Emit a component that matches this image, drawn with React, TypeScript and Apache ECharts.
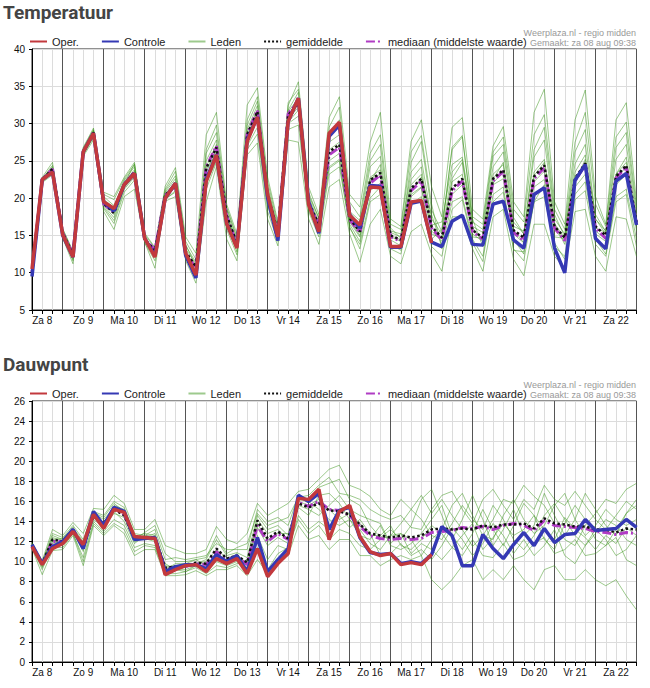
import * as echarts from "echarts";
import { useEffect, useRef } from "react";

// tick labels (day names); the 60 points are 6-hourly from za 8 06:00 to zo 23 00:00
const days = ["Za 8", "Zo 9", "Ma 10", "Di 11", "Wo 12", "Do 13", "Vr 14", "Za 15", "Zo 16", "Ma 17", "Di 18", "Wo 19", "Do 20", "Vr 21", "Za 22", "Zo 23"];
const hours = ["06:00", "12:00", "18:00", "00:00"];

const legendNames = ["Oper.", "Controle", "Leden", "gemiddelde", "mediaan (middelste waarde)"];

// Temperatuur
const tempOper = [
	10.5, 22.5, 23.5, 15.1, 12.1, 26.2, 28.7, 19.5, 18.6, 21.8,
	23.3, 14.6, 12.1, 20, 22, 12.6, 9.7, 22.2, 25.8, 16.6,
	13.3, 27.6, 30.9, 20.5, 14.8, 30.3, 33.4, 19.1, 15.5, 28.7,
	30.2, 17.7, 16.4, 21.5, 21.4, 13.5, 13.5, 19.5, 19.7, 14,
];
const tempControle = [
	9.5, 22.5, 23.5, 15, 12.1, 26.2, 28.7, 19.5, 18.3, 21.8,
	23.3, 14.6, 12.3, 20, 22, 12.3, 9.3, 22.5, 25.8, 16.6,
	13.5, 27.8, 30.9, 20, 14.3, 30.3, 33.4, 19.5, 15.3, 28.3,
	29.8, 17.8, 16, 21.7, 21.6, 13.4, 13.4, 19.3, 19.6, 14.1,
	13.5, 16.9, 17.7, 13.8, 13.7, 19.2, 19.6, 14.4, 13.3, 20.5,
	21.4, 13.3, 10, 22.4, 24.5, 14.6, 13.2, 22.3, 23.3, 16.4,
];
const tempMean = [
	10.1, 22.5, 23.9, 15.3, 12.4, 26.2, 28.8, 19.3, 18, 21.8,
	23.5, 14.4, 13, 20.4, 21.8, 12.8, 10.8, 24, 26.8, 17.7,
	13.9, 28.5, 31.6, 20.4, 15.5, 31.1, 32.7, 19.5, 16.4, 26.2,
	27.2, 17.3, 15.5, 22.4, 23.4, 15, 14.4, 21.3, 22.6, 16.2,
	14.7, 21.3, 22.6, 15.7, 14.7, 22.6, 23.8, 15.7, 14.7, 22.9,
	24.4, 16.2, 14.7, 22.6, 24.7, 16.2, 15, 22.9, 24.4, 16.8,
];
const tempMedian = [
	10.1, 22.5, 23.9, 15.3, 12.5, 26.2, 28.8, 19.2, 18.1, 21.9,
	23.5, 14.4, 13.1, 20.4, 21.7, 12.6, 10.6, 24.2, 27, 17.6,
	13.8, 28.6, 31.8, 20.2, 15.4, 31.3, 33, 19.4, 16.3, 25.8,
	26.8, 17.1, 15.4, 22, 23.1, 14.8, 14.2, 21, 22.3, 16,
	14.4, 21, 22.3, 15.5, 14.5, 22.3, 23.6, 15.4, 14.3, 22.6,
	24.1, 16, 14.3, 22.3, 24.5, 16, 14.6, 22.7, 24.2, 16.6,
];
const tempLeden = [
	[10.3, 22.8, 24.8, 15.8, 12.8, 26.8, 29.4, 20.8, 20.2, 22.8, 24.8, 15.3, 13.4, 21.6, 24.1, 14.8, 12.6, 28.5, 31.5, 19.2,
	 15.2, 32.5, 34.8, 22.8, 16.8, 32.4, 35.6, 21.5, 17.8, 30.8, 33.6, 20.5, 18.8, 27.5, 31.5, 17.2, 16.2, 27.6, 30.5, 21.5,
	 17.5, 29.5, 30.8, 18.5, 17.2, 27, 29.6, 19.5, 17.5, 31.5, 34.6, 19.5, 16.5, 30.5, 34.5, 20.2, 16.5, 30.5, 32.8, 19.5],
	[9.6, 22.1, 23.1, 14.6, 11.2, 25.6, 27.8, 18.2, 15.8, 20.2, 21.2, 14.1, 10.6, 19.6, 20.2, 11.6, 8.6, 19.5, 24.2, 14.5,
	 11.6, 25.8, 27.4, 17.2, 13.6, 27.8, 27.5, 17.2, 13.8, 21.5, 22.5, 15.2, 11.4, 16.5, 18.5, 12.2, 11.2, 15.5, 16.5, 12.5,
	 10.2, 17.5, 17.5, 13.2, 10.2, 17.5, 18.5, 11.8, 9.6, 16.5, 16.5, 12.2, 10.6, 18.2, 18.5, 12.2, 10.2, 17.5, 17.2, 12.2],
	[10.1, 22.6, 24.2, 15.5, 12.6, 26.4, 29, 19.6, 18.6, 22.2, 23.8, 14.6, 13.1, 20.8, 22.6, 13.2, 11.2, 25, 27.8, 18.2,
	 14.2, 29.2, 32.4, 21.2, 15.8, 31.6, 33.4, 20.2, 16.8, 27.5, 28.5, 17.8, 16.2, 24.2, 25.6, 15.6, 15.2, 23.5, 25.2, 17.2,
	 15.2, 23.5, 25.2, 16.2, 15.4, 24.2, 26.2, 16.8, 15.2, 25.5, 27.8, 17.2, 15.2, 24.6, 27.2, 17.2, 15.6, 25.2, 27.2, 17.5],
	[10, 22.4, 23.6, 15.1, 12.2, 26, 28.4, 19, 17.4, 21.4, 23, 14.2, 12.6, 20.2, 21.4, 12.4, 10.2, 22.8, 25.8, 17,
	 13.4, 27.6, 30.8, 19.6, 15.2, 30.6, 32.2, 19, 16, 25, 26, 16.8, 14.8, 21, 22, 14.4, 13.6, 20.2, 21.4, 15.6,
	 14.2, 20.5, 21.8, 15.2, 14.2, 21.8, 22.6, 15.2, 14, 21.5, 22.5, 15.8, 14.2, 21.5, 23.2, 15.6, 14.5, 21.8, 23.2, 16.2],
	[10.2, 22.6, 24.4, 15.9, 12.9, 26.7, 29.2, 20.5, 19.8, 22.6, 24.5, 15.1, 13.3, 21.2, 23.6, 14.2, 11.8, 26.5, 29.8, 18.8,
	 14.8, 30.5, 33.6, 22.2, 16.4, 32.8, 34.6, 20.8, 17.2, 29.5, 32.2, 19.5, 17.5, 26, 28.5, 16.5, 15.8, 26.2, 28.4, 19.2,
	 13.2, 19.5, 20.2, 14.5, 12.2, 19.5, 20.8, 13.2, 11.6, 19.5, 20.2, 13.5, 12.2, 20.5, 22.2, 14.5, 12.5, 20.2, 21.2, 14.5],
	[9.9, 22.3, 23.4, 14.9, 11.6, 25.8, 28.1, 18.6, 16.6, 20.8, 22.4, 14, 11.6, 19.9, 20.8, 12, 9.6, 21.2, 24.8, 15.8,
	 12.4, 26.5, 28.6, 18.2, 14.2, 29.2, 29.8, 18.2, 14.8, 23.2, 24.2, 16.2, 13.2, 19.5, 20.5, 13.2, 12.5, 19.2, 20.2, 14.5,
	 15.8, 26.5, 28.2, 17.5, 16.5, 26.2, 28.2, 18.5, 16.8, 28.5, 31.2, 18.5, 15.8, 27.5, 31.5, 19.2, 16.2, 28.2, 30.2, 18.8],
	[10.4, 22.7, 23.8, 15.4, 12.4, 26.2, 28.6, 19.2, 18.2, 21.6, 23.4, 14.8, 12.8, 20.6, 22.2, 12.8, 10.6, 24.2, 27.2, 17.8,
	 13.8, 28.2, 31.2, 20.2, 15.4, 31.2, 32.6, 19.2, 16.6, 26.5, 27.5, 16.8, 15.6, 22.8, 23.8, 14.8, 14.2, 21.8, 23.2, 16.4,
	 16.8, 24.5, 25.5, 17.2, 13.5, 22.5, 24.8, 14.5, 12.5, 23.5, 25.2, 16.5, 13.8, 22.2, 25.2, 17.8, 15.5, 23.2, 25.5, 17.2],
	[9.8, 22.2, 23.3, 15.2, 12.5, 26.1, 28.9, 19.8, 18.8, 22.4, 24.2, 14.5, 13.2, 20.4, 21.8, 13.6, 11.4, 23.5, 26.2, 17.4,
	 14.4, 28.8, 31.8, 20.6, 15.6, 30.2, 31.8, 18.8, 16.2, 24.2, 25.2, 16.5, 14.2, 22.2, 24.5, 15.4, 14.8, 22.5, 24.2, 15.2,
	 14.6, 22.2, 23.2, 14.8, 14.6, 23.2, 24.5, 16.2, 15.6, 22.2, 23.6, 14.8, 14.6, 23.5, 25.8, 15.2, 14.2, 22.6, 24.2, 15.6],
	[10.1, 22.5, 24, 15.6, 12.7, 26.5, 29.1, 20.2, 19, 21.9, 24.6, 15, 12.4, 21, 23, 13.8, 10.8, 26, 28.8, 18.6,
	 14.6, 29.8, 33, 21.6, 16, 31.8, 34.2, 20.4, 17.4, 28.5, 30.5, 18.2, 17, 25, 27.2, 16, 14.6, 24.8, 27.6, 18.4,
	 15.5, 26.8, 28.4, 16.8, 15.8, 25.6, 27.2, 17.4, 15.2, 26.5, 29.5, 17.8, 14.8, 26.2, 29.2, 17.2, 15.2, 26.8, 28.8, 18.2],
	[9.7, 22.2, 23.5, 14.8, 11.8, 25.9, 28.2, 18.8, 17, 21.2, 22.8, 14.3, 12.2, 19.8, 21, 12.6, 9.8, 22, 25, 16.4,
	 12.8, 27, 29.5, 19, 14.6, 30, 31, 18.4, 15.4, 24, 25, 16, 13.8, 20, 21.5, 13.8, 13, 20.5, 21.5, 13.5,
	 12.2, 18.5, 19.8, 14, 11.5, 20.5, 21.5, 13, 12.8, 19.5, 21.8, 14, 11.8, 19.8, 21, 13.8, 12.2, 19.5, 20.5, 13.5],
	[10, 22.4, 23.7, 15, 12.3, 26.3, 28.5, 19.4, 17.8, 21.6, 23.6, 14.4, 12.9, 20.2, 21.6, 12.9, 10.4, 23.8, 26.4, 17.6,
	 13.6, 28.4, 31.6, 20, 15, 31.2, 33, 19.6, 16.6, 26, 27, 17, 15, 22.6, 23.2, 15, 14.4, 21, 22.8, 17.8,
	 13.6, 22.6, 24.8, 16, 14.4, 22, 23.6, 15.8, 14, 23, 24.8, 16.6, 14.6, 23, 24, 16, 15.4, 23.2, 24.8, 16.6],
];

// Dauwpunt
const dewOper = [
	11.5, 9.7, 11.3, 11.8, 13, 11.7, 14.7, 13.3, 15.2, 14.9,
	12.5, 12.4, 12.3, 8.7, 9.2, 9.6, 9.7, 9, 10.3, 9.8,
	10.3, 8.8, 11.3, 8.5, 9.8, 10.8, 16.3, 16.2, 17.2, 12.2,
	15, 15.6, 12.5, 11, 10.6, 10.8, 9.7, 9.9, 9.7, 10.7,
];
const dewControle = [
	11.7, 9.8, 11.5, 12, 13.2, 11.3, 15, 13.6, 15.4, 15,
	12.2, 12.3, 12.4, 9, 9.5, 9.7, 9.7, 9.3, 10.7, 10,
	10.6, 9, 12.4, 9, 10.2, 11.3, 16.6, 16, 16.8, 13.2,
	15.1, 15.4, 12.4, 10.9, 10.7, 10.8, 9.8, 10, 9.8, 10.7,
	13.5, 12.6, 9.6, 9.6, 12.7, 11.3, 10.3, 11.7, 12.9, 11.6,
	13.3, 11.9, 12.7, 12.8, 14.2, 13.1, 13.2, 13.3, 14.2, 13.4,
];
const dewMean = [
	11.6, 9.8, 12.2, 12, 13.2, 11.3, 14.6, 13.8, 15.2, 14.6,
	12.2, 12.5, 12.4, 9.4, 9.5, 9.6, 9.9, 9.8, 11.3, 10.3,
	10.6, 9.9, 14.1, 12.3, 13, 12.3, 15.8, 15.4, 15.8, 15.1,
	15, 14.7, 13.7, 12.8, 12.6, 12.4, 12.6, 12.4, 12.6, 13.2,
	13.3, 13.2, 13.3, 13.2, 13.6, 13.4, 13.7, 13.7, 13.8, 13.3,
	14.3, 13.8, 13.7, 13.5, 13.5, 13.2, 13.2, 12.9, 13.3, 13.2,
];
const dewMedian = [
	11.6, 9.8, 12, 12, 13.2, 11.4, 14.7, 13.7, 15.3, 14.7,
	12.3, 12.4, 12.4, 9.3, 9.4, 9.5, 9.8, 9.7, 11, 10.2,
	10.5, 9.7, 13.6, 12, 12.8, 12.2, 15.9, 15.5, 16, 15.2,
	15.1, 14.6, 13.5, 12.6, 12.3, 12.2, 12.3, 12.2, 12.3, 12.9,
	13, 13.1, 13.4, 13.3, 13.5, 13.2, 13.6, 13.8, 13.6, 13.1,
	14.1, 13.6, 13.5, 13.4, 13.3, 13, 12.9, 12.7, 12.9, 12.8,
];
const dewLeden = [
	[11.9, 10.1, 13.2, 12.6, 13.9, 12.8, 15.3, 15.2, 16.6, 15.8, 13.2, 13.2, 14.2, 11.6, 11.2, 10.8, 10.8, 11.2, 13.5, 12.2,
	 11.8, 12.8, 15.8, 14.6, 15.2, 15.8, 17, 17.2, 18.2, 19.2, 19.6, 17.6, 17.2, 16.5, 15.2, 14.6, 16.2, 15.2, 16.6, 14.8,
	 16.2, 14.6, 13.2, 11.5, 12.6, 14.2, 16.2, 15.8, 17.6, 16.5, 15.6, 13.8, 12.2, 11.6, 13.6, 14.8, 16.2, 15.8, 17.2, 17.8],
	[11.3, 8.7, 11.1, 11.2, 12.6, 9.6, 13.6, 12.6, 13.6, 12.8, 10.6, 11.2, 11.2, 8.6, 8.6, 8.7, 9.1, 8.6, 9.2, 9.2,
	 9.6, 8.6, 10.2, 8.8, 10.2, 10.6, 13.6, 12.2, 12.6, 11.2, 12.2, 12.2, 10.6, 10.6, 9.6, 10.2, 10.6, 10.2, 10.6, 8.2,
	 7.2, 8.2, 9.6, 10.2, 8.2, 9.2, 8.2, 9.6, 8.2, 7.2, 9.2, 9.6, 8.2, 8.2, 9.2, 8.2, 7.6, 8.2, 6.6, 5.2],
	[11.6, 9.9, 12.4, 12.1, 13.3, 11.2, 14.8, 14.2, 15.4, 14.9, 12.4, 12.8, 12.6, 9.6, 9.4, 9.4, 9.8, 10.2, 12.2, 10.6,
	 10.9, 10.4, 14.6, 13.2, 13.6, 12.6, 16.2, 16, 15.2, 14.2, 13.6, 14.2, 13.2, 11.8, 11.2, 12.6, 13.8, 15.2, 14.2, 12.6,
	 12.2, 13.8, 15.6, 14.2, 13.2, 15.6, 14.2, 12.2, 11.2, 12.6, 14.6, 15.8, 14.2, 12.6, 11.6, 12.8, 14.2, 13.6, 12.2, 11.6],
	[11.5, 9.6, 12, 11.8, 13, 11.6, 14.2, 13.4, 14.8, 14.4, 12, 12.3, 12, 9.2, 9.8, 9.8, 10.2, 9.6, 10.6, 10.1,
	 10.4, 9.4, 13.4, 11.6, 12.4, 11.8, 15.4, 14.6, 16.6, 16.8, 15.8, 14.2, 12.6, 12.2, 13.6, 11.6, 11.2, 11.8, 12.8, 14.2,
	 15.6, 12.6, 11.2, 12.8, 15.2, 13.2, 11.6, 13.6, 15.8, 14.6, 12.2, 11.2, 13.8, 15.6, 14.2, 12.2, 11.6, 13.2, 14.8, 15.6],
	[11.7, 10, 12.8, 12.4, 13.6, 12.2, 15, 14.6, 16, 15.4, 12.8, 12.6, 13.2, 10.2, 10.4, 10.2, 10.4, 10.6, 11.8, 11.2,
	 11.2, 11.2, 15.2, 14, 14.4, 13.6, 16.6, 15.8, 17.4, 17.8, 18.2, 16.2, 15.6, 13.6, 12.4, 13.2, 12.2, 13.6, 16.2, 17.2,
	 14.6, 12.2, 14.2, 16.6, 14.2, 11.6, 13.2, 15.2, 12.6, 13.6, 16.8, 14.6, 12.6, 14.2, 16.8, 15.2, 13.6, 12.6, 14.8, 16.2],
	[11.4, 9.2, 11.6, 11.6, 12.8, 10.4, 14, 13, 14.2, 13.6, 11.4, 11.8, 11.6, 9, 9.2, 9, 9.6, 9.2, 10, 9.6,
	 10, 9, 12.6, 10.2, 11.6, 11.2, 14.6, 13.2, 14, 13.2, 14.6, 13.4, 14.2, 12.8, 10.6, 10.8, 11.8, 10.6, 11.2, 10.2,
	 11.6, 13.4, 12.2, 10.6, 11.8, 13.8, 12.6, 10.8, 12.2, 10.6, 11.6, 13.2, 10.6, 9.8, 11.6, 13.2, 12.2, 10.6, 11.2, 12.6],
	[11.8, 9.8, 12.6, 12.2, 13.4, 11.4, 14.6, 13.8, 15.6, 15.2, 12.6, 12.4, 12.8, 9.4, 9.6, 9.6, 9.8, 10, 11.2, 10.4,
	 10.6, 9.8, 14.2, 12.8, 13.2, 12.2, 15.6, 15.2, 14.6, 15.6, 16.6, 15.2, 14.6, 14.2, 13.8, 11.8, 12.8, 12.2, 10.6, 12.2,
	 13.2, 15.6, 16.8, 14.6, 12.6, 12.2, 14.6, 16.2, 14.2, 12.8, 13.6, 15.6, 16.8, 14.2, 12.6, 13.6, 15.2, 14.2, 13.6, 14.2],
	[11.6, 9.4, 11.8, 12, 13.1, 11, 14.4, 13.6, 15, 14, 11.8, 12.6, 12.2, 9.8, 9.2, 9.2, 9.6, 9.4, 11, 10,
	 10.8, 9.6, 13.8, 12, 12.8, 12.8, 16, 15.6, 16.2, 15.2, 14.2, 14.8, 13.8, 12.6, 12.6, 13.6, 11.6, 11.2, 12.2, 13.6,
	 12.8, 11.4, 12.6, 13.8, 11.2, 12.4, 13.8, 12.6, 13.2, 14.6, 13.2, 12.2, 14.4, 13.2, 12.4, 11.2, 12.6, 11.8, 13.4, 12.6],
	[11.7, 9.9, 12.2, 12.3, 13.4, 12, 14.9, 14.4, 15.8, 15, 12.2, 12.9, 13.6, 10.8, 10, 10, 10.2, 10.4, 12.6, 10.8,
	 11.4, 11.8, 14.8, 13.6, 14, 14.4, 16.4, 16.6, 17.6, 18.4, 16.8, 16.6, 16.2, 15.2, 14.6, 14.2, 14.6, 13.4, 13.2, 15.2,
	 16.6, 17, 15.2, 13.8, 16.2, 17.2, 15.6, 14.2, 16.2, 15.2, 17.6, 16.2, 15.6, 17, 15.6, 14.2, 13.2, 14.6, 16, 15.2],
	[11.5, 9.5, 11.4, 11.4, 12.8, 10, 13.8, 12.8, 13.8, 13.2, 11, 11.6, 11.4, 8.8, 8.8, 9, 9.4, 8.8, 9.6, 9.4,
	 9.8, 10.2, 11.4, 9.2, 10.8, 11.4, 14.2, 12.8, 13.6, 12.2, 13.2, 12.8, 11.6, 11.2, 12.2, 12.6, 12.8, 10.8, 11.8, 11.2,
	 10.2, 11.4, 10.6, 12.2, 10.6, 10.4, 11.8, 10.2, 10.6, 11.8, 12.4, 10.8, 11.2, 12.2, 10.6, 10.8, 11.6, 12.4, 10.2, 9.6],
];

const RED = "#c2393d";
const BLUE = "#3539b4";
const PURPLE = "#b03cc4";
const LEDEN = "rgba(60, 150, 28, 0.5)";
const FONT = "'Liberation Sans', Arial, sans-serif";

export default function App() {
	const chartRef = useRef<HTMLDivElement>(null);

	useEffect(() => {
		if (!chartRef.current) return;
		document.body.style.margin = "0";
		const chart = echarts.init(chartRef.current, null, { renderer: "svg" });

		const times = Array.from({ length: 60 }, (_, i) => `${days[Math.floor((i + 1) / 4)]} ${hours[i % 4]}`);
		const panels = [
			{ title: "Temperatuur", top: 49, min: 5, max: 40, step: 5, oper: tempOper, ctrl: tempControle, mean: tempMean, median: tempMedian, leden: tempLeden },
			{ title: "Dauwpunt", top: 401, min: 0, max: 26, step: 2, oper: dewOper, ctrl: dewControle, mean: dewMean, median: dewMedian, leden: dewLeden },
		];
		const shift = 352;

		const series: any[] = [];
		panels.forEach((p, g) => {
			const base = { type: "line", xAxisIndex: g * 2, yAxisIndex: g, symbol: "none", silent: true };
			p.leden.forEach((d) =>
				series.push({ ...base, name: "Leden", data: d, lineStyle: { width: 1, color: LEDEN }, itemStyle: { color: LEDEN } }),
			);
			series.push({ ...base, name: "mediaan (middelste waarde)", data: p.median, lineStyle: { width: 3, color: PURPLE, type: [9, 3, 2, 3] }, itemStyle: { color: PURPLE } });
			series.push({ ...base, name: "gemiddelde", data: p.mean, lineStyle: { width: 2.5, color: "#111", type: "dotted" }, itemStyle: { color: "#111" } });
			series.push({ ...base, name: "Controle", data: p.ctrl, lineStyle: { width: 3.5, color: BLUE }, itemStyle: { color: BLUE } });
			series.push({ ...base, name: "Oper.", data: p.oper, lineStyle: { width: 3.5, color: RED }, itemStyle: { color: RED } });
		});

		chart.setOption({
			animation: false,
			title: panels.map((p, g) => ({
				text: p.title,
				left: 3,
				top: 3 + g * shift,
				padding: 0,
				textStyle: { fontFamily: "Roboto", fontWeight: "bold", fontSize: 19, color: "#444" },
			})),
			legend: panels.map((_, g) => ({
				data: legendNames,
				left: 29,
				top: 36 + g * shift,
				padding: 0,
				itemWidth: 17,
				itemHeight: 12,
				itemGap: 22,
				selectedMode: false,
				// line only, no symbol in the legend icons
				itemStyle: { opacity: 0 },
				textStyle: { fontFamily: FONT, fontSize: 11, color: "#222" },
			})),
			graphic: panels.flatMap((_, g) => [
				{ type: "text", x: 636, y: 33 + g * shift, style: { text: "Weerplaza.nl - regio midden", fill: "#999", fontSize: 9, fontFamily: FONT, align: "right", verticalAlign: "middle" } },
				{ type: "text", x: 636, y: 43 + g * shift, style: { text: "Gemaakt: za 08 aug 09:38", fill: "#999", fontSize: 9, fontFamily: FONT, align: "right", verticalAlign: "middle" } },
			]),
			grid: panels.map((p) => ({
				left: 32,
				top: p.top,
				width: 604.5,
				height: 261,
				show: true,
				borderColor: "#222",
				borderWidth: 1,
				backgroundColor: "transparent",
			})),
			xAxis: panels.flatMap((_, g) => [
				{
					gridIndex: g,
					type: "category",
					data: times,
					boundaryGap: false,
					axisLine: { lineStyle: { color: "#000" } },
					axisTick: { interval: 0, length: 4, lineStyle: { color: "#000" } },
					axisLabel: {
						interval: (i: number) => i % 4 === 1,
						formatter: (v: string) => v.slice(0, v.lastIndexOf(" ")),
						fontFamily: FONT,
						fontSize: 10,
						color: "#111",
						margin: 5,
					},
					splitLine: { show: true, interval: 0, lineStyle: { color: "#dcdcdc" } },
				},
				{
					// day boundaries (midnight)
					gridIndex: g,
					type: "category",
					data: times,
					boundaryGap: false,
					position: "top",
					axisLine: { show: false },
					axisTick: { show: false },
					axisLabel: { show: false },
					splitLine: { show: true, interval: (i: number) => i % 4 === 3, lineStyle: { color: "#555" } },
				},
			]),
			yAxis: panels.map((p, g) => ({
				gridIndex: g,
				type: "value",
				min: p.min,
				max: p.max,
				interval: p.step,
				axisLine: { show: true, lineStyle: { color: "#000" } },
				axisTick: { show: true, length: 3, lineStyle: { color: "#000" } },
				axisLabel: { fontFamily: FONT, fontSize: 10, color: "#111", margin: 7 },
				splitLine: { lineStyle: { color: "#dcdcdc" } },
			})),
			series,
		});

		return () => chart.dispose();
	}, []);

	return <div ref={chartRef} style={{ width: 650, height: 688 }} />;
}
